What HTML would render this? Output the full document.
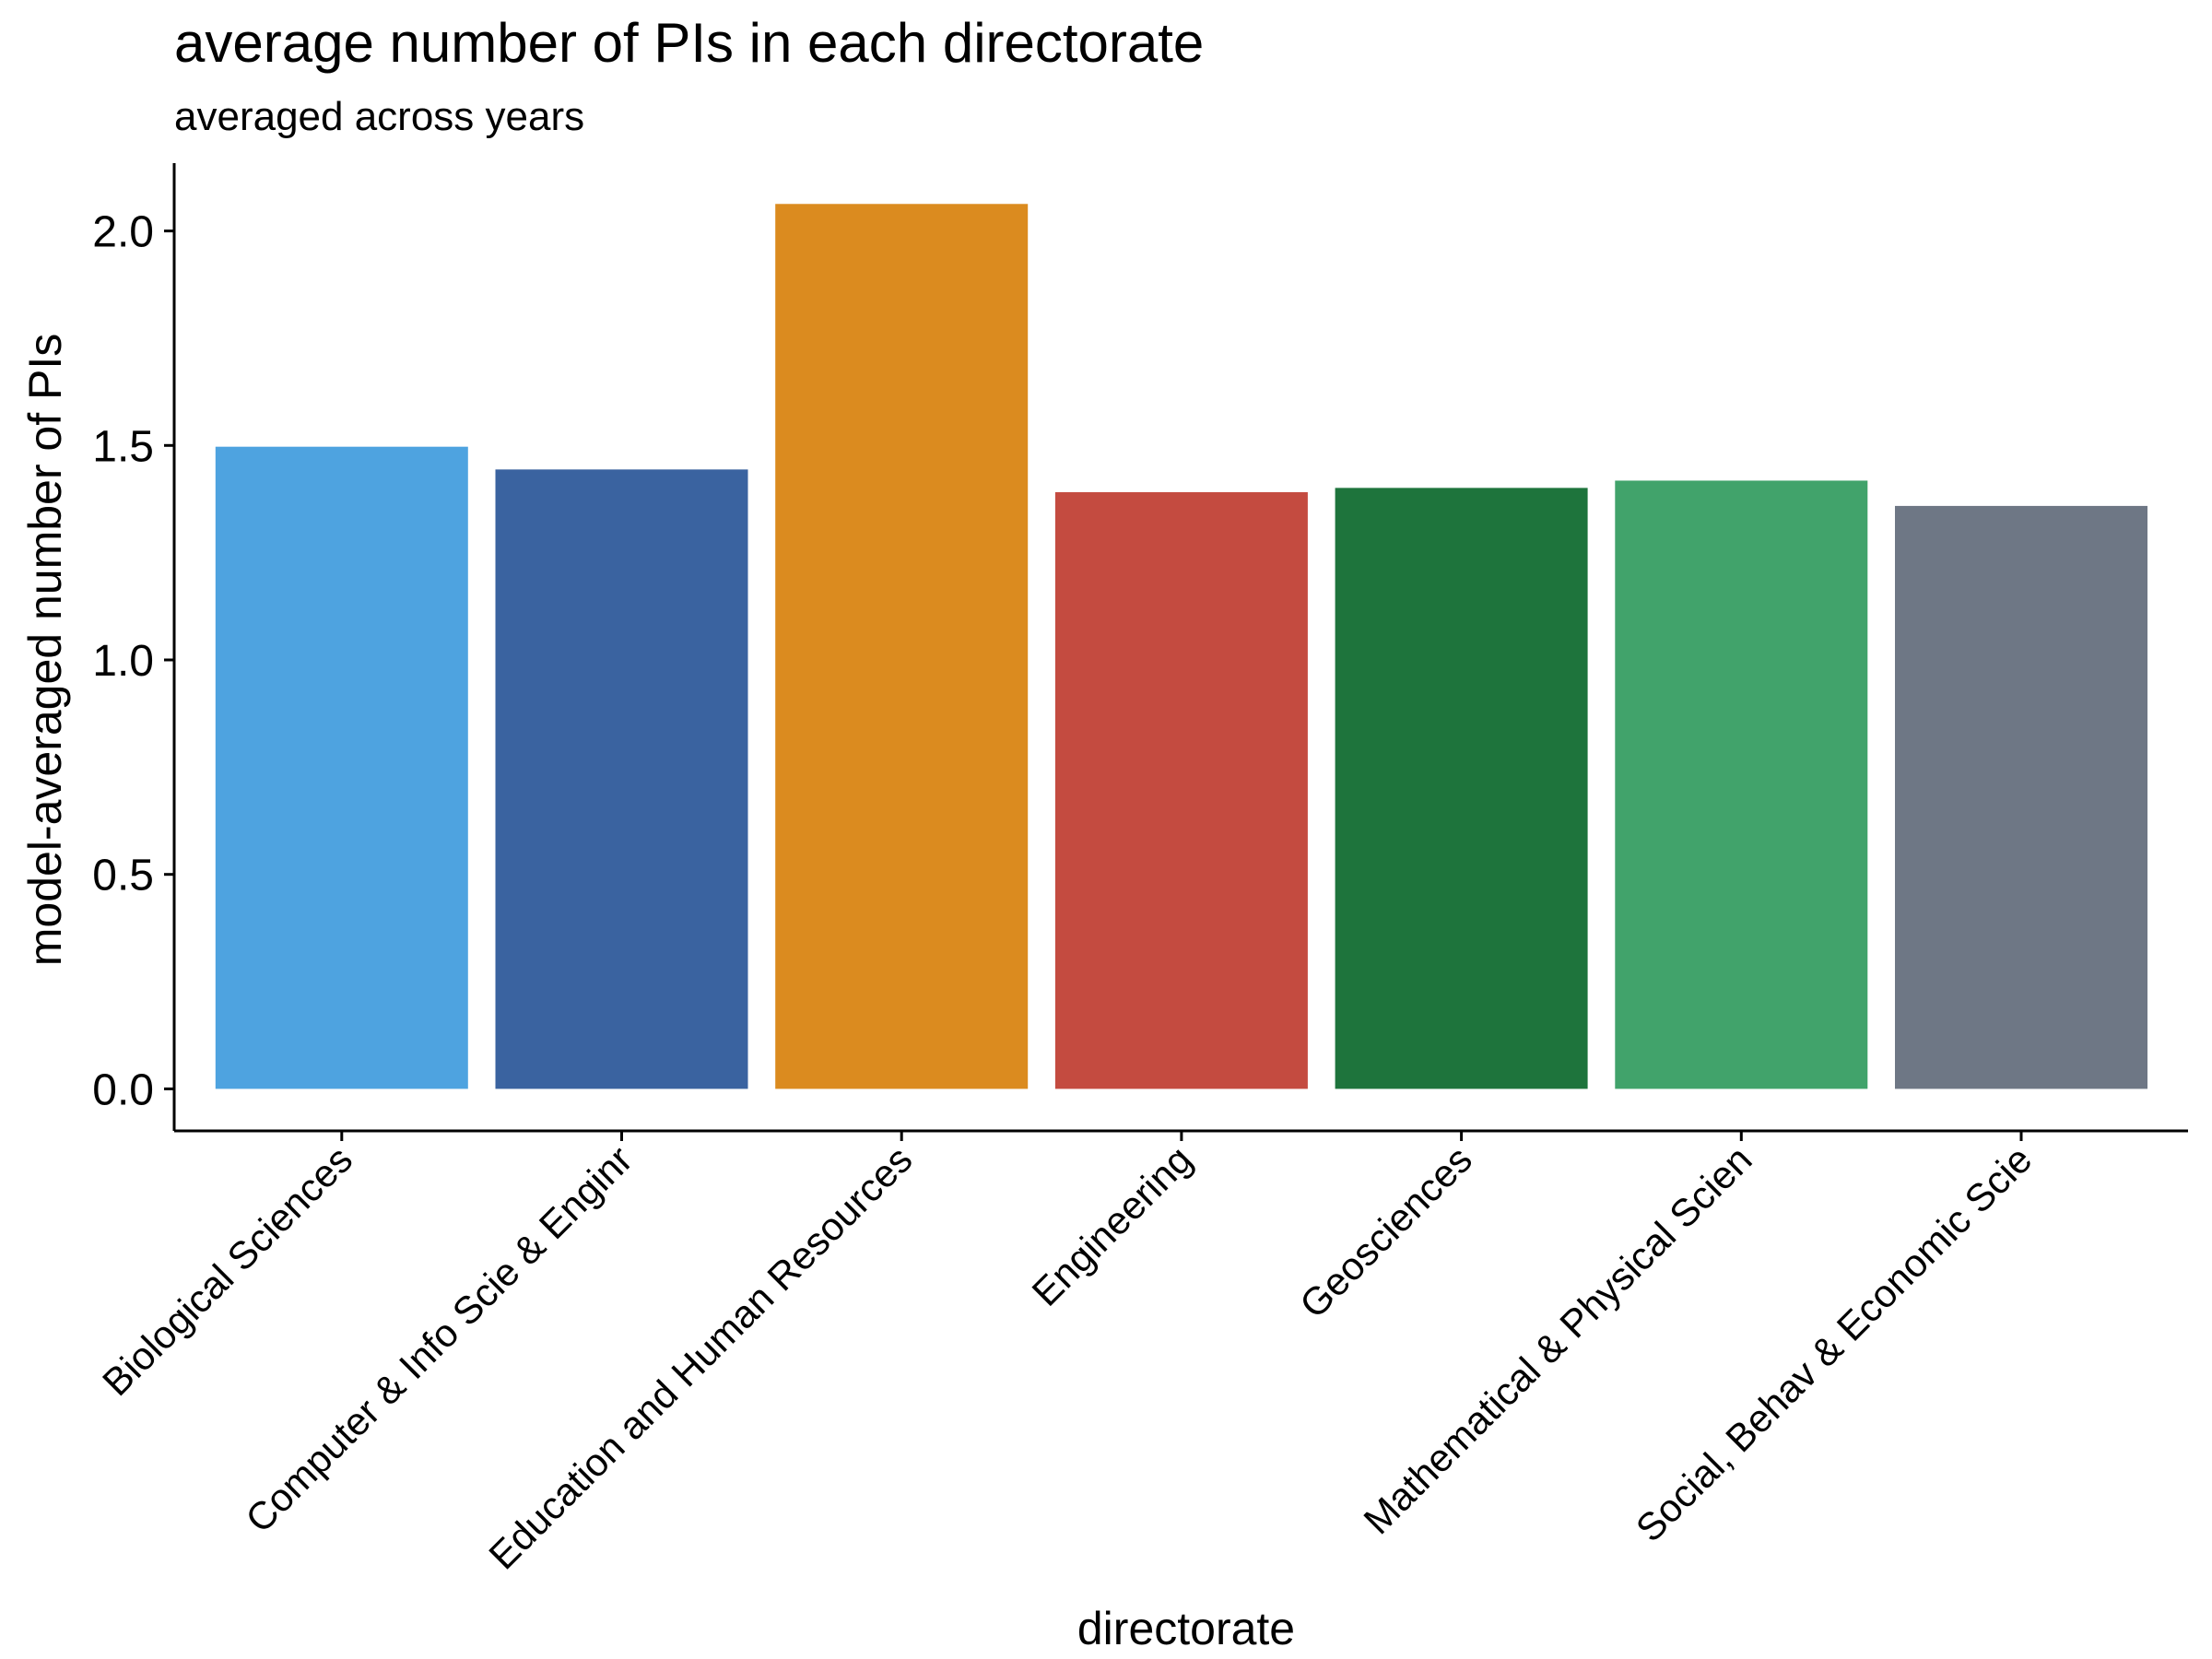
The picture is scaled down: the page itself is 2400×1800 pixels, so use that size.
<!DOCTYPE html>
<html><head><meta charset="utf-8"><style>
html,body{margin:0;padding:0;background:#fff;}
svg{display:block;font-family:"Liberation Sans",Arial,sans-serif;}
</style></head><body>
<svg id="chart" width="2400" height="1800" viewBox="0 0 2400 1800" xmlns="http://www.w3.org/2000/svg">
<text x="189" y="67" font-size="60" fill="#000">average number of PIs in each directorate</text>
<text x="189" y="141" font-size="44" fill="#000">averaged across years</text>
<g id="bars"></g>
<g id="yaxis"></g>
<g id="xaxis"></g>
<text x="1287" y="1784" font-size="50" text-anchor="middle" fill="#000">directorate</text>
<text transform="translate(66,705) rotate(-90)" font-size="50" text-anchor="middle" fill="#000">model-averaged number of PIs</text>
</svg>
<script>
const categories = ["Biological Sciences","Computer & Info Scie & Enginr","Education and Human Resources","Engineering","Geosciences","Mathematical & Physical Scien","Social, Behav & Economic Scie"];
const values = [1.497, 1.444, 2.063, 1.391, 1.401, 1.418, 1.359];
const colors = ["#4EA3E0","#3A63A0","#DB8B1F","#C44B40","#1E743C","#41A36B","#6E7785"];
const yTicks = [0, 0.5, 1.0, 1.5, 2.0];
const yTickLabels = ["0.0","0.5","1.0","1.5","2.0"];

const NS = "http://www.w3.org/2000/svg";
const axisLeft = 189, axisBottom = 1227, axisRight = 2374, axisTop = 177;
const y0 = 1181.4, pxPerUnit = 465.4;
const band = 303.7, firstCenter = 370.8, barW = 274;
function yScale(v){ return y0 - v*pxPerUnit; }
function xScale(i){ return firstCenter + i*band; }
function mk(tag, attrs, parent){ const e=document.createElementNS(NS,tag); for(const k in attrs) e.setAttribute(k,attrs[k]); parent.appendChild(e); return e; }

const gb = document.getElementById("bars");
values.forEach((v,i)=>{
  const r = mk("rect",{x:xScale(i)-barW/2,y:yScale(v),width:barW,height:yScale(0)-yScale(v),fill:colors[i]},gb);
  
  
});

const gy = document.getElementById("yaxis");
const yl = mk("line",{x1:axisLeft,y1:axisTop,x2:axisLeft,y2:axisBottom,stroke:"#000","stroke-width":3},gy);


yTicks.forEach((t,i)=>{
  const yy = yScale(t);
  const tk = mk("line",{x1:axisLeft-11,y1:yy,x2:axisLeft,y2:yy,stroke:"#000","stroke-width":3},gy);
  
  
  const tx = mk("text",{x:axisLeft-22,y:yy+17,"font-size":48,"text-anchor":"end",fill:"#000"},gy);
  tx.textContent = yTickLabels[i];
  
  
});

const gx = document.getElementById("xaxis");
const xl = mk("line",{x1:axisLeft,y1:axisBottom,x2:axisRight,y2:axisBottom,stroke:"#000","stroke-width":3},gx);


categories.forEach((c,i)=>{
  const xx = xScale(i);
  const tk = mk("line",{x1:xx,y1:axisBottom,x2:xx,y2:axisBottom+11,stroke:"#000","stroke-width":3},gx);
  
  
  const tx = mk("text",{transform:`translate(${xx+14},${axisBottom+34}) rotate(-45)`,"font-size":42,"text-anchor":"end",fill:"#000"},gx);
  tx.textContent = c;
  
  
});
</script>
</body></html>
